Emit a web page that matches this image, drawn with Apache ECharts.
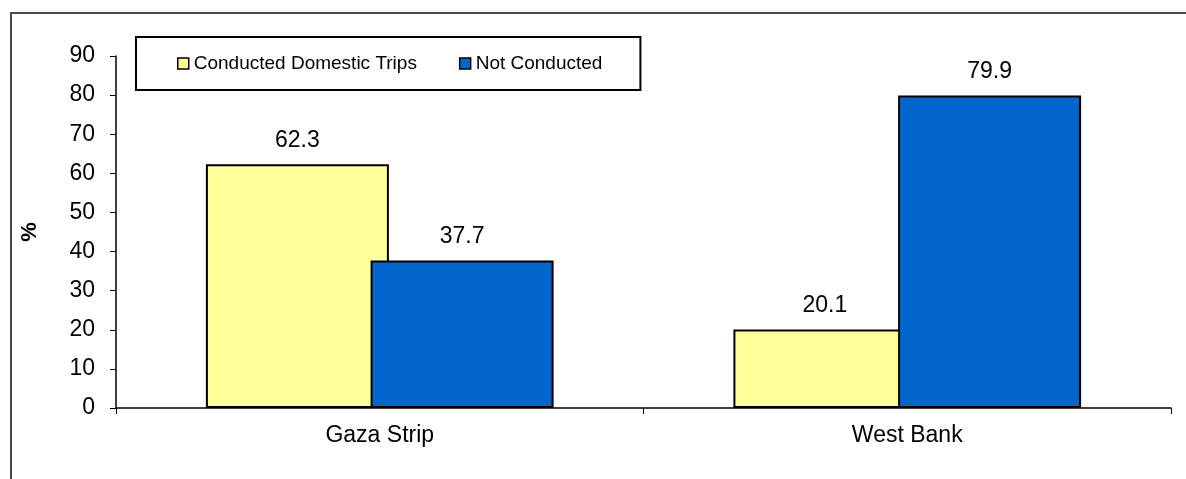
<!DOCTYPE html>
<html>
<head>
<meta charset="utf-8">
<script src="https://cdn.jsdelivr.net/npm/echarts@6/dist/echarts.min.js"></script>
<style>
  html, body { margin: 0; padding: 0; background: #ffffff; }
  #chart { width: 1186px; height: 479px; }
</style>
</head>
<body>
<div id="chart"></div>
<script>
// Share of people who conducted domestic trips, by region (%)
const regions = ['Gaza Strip', 'West Bank'];
const seriesNames = ['Conducted Domestic Trips', 'Not Conducted'];
const conducted = [62.3, 20.1];
const notConducted = [37.7, 79.9];
const yTicks = { min: 0, max: 90, interval: 10 };

const FONT = '"Liberation Sans", Arial, sans-serif';
const chart = echarts.init(document.getElementById('chart'), null, { renderer: 'canvas' });

const labelStyle = {
  show: true,
  position: 'top',
  distance: 12,
  color: '#000',
  fontFamily: FONT,
  fontSize: 23,
  formatter: p => p.value.toFixed(1)
};

chart.setOption({
  animation: false,
  backgroundColor: '#ffffff',
  graphic: [{
    type: 'rect',
    shape: { x: 11, y: 13, width: 1200, height: 500 },
    style: { fill: 'none', stroke: '#4a4a4a', lineWidth: 2 },
    silent: true
  }],
  grid: { left: 116, right: 15, top: 56, bottom: 71 },
  legend: {
    left: 136,
    top: 37,
    orient: 'horizontal',
    padding: [17, 38, 17, 41],
    borderColor: '#000',
    borderWidth: 2,
    itemWidth: 11,
    itemHeight: 11,
    itemGap: 42,
    icon: 'rect',
    itemStyle: { borderColor: '#000', borderWidth: 1.5 },
    textStyle: { fontFamily: FONT, fontSize: 19, color: '#000' },
    data: seriesNames
  },
  xAxis: {
    type: 'category',
    data: regions,
    axisLine: { lineStyle: { color: '#000', width: 1.5 } },
    axisTick: { show: true, length: 6, lineStyle: { color: '#000' } },
    axisLabel: { fontFamily: FONT, fontSize: 23, color: '#000', margin: 16 },
    splitLine: { show: false }
  },
  yAxis: {
    type: 'value',
    min: yTicks.min,
    max: yTicks.max,
    interval: yTicks.interval,
    name: '%',
    nameLocation: 'middle',
    nameRotate: 90,
    nameGap: 75,
    nameTextStyle: { fontFamily: FONT, fontSize: 22, fontWeight: 'bold', color: '#000' },
    axisLine: { show: true, lineStyle: { color: '#000', width: 1.5 } },
    axisTick: { show: true, length: 6, lineStyle: { color: '#000' } },
    axisLabel: { fontFamily: FONT, fontSize: 23, color: '#000', margin: 21 },
    splitLine: { show: false }
  },
  series: [
    {
      name: seriesNames[0],
      type: 'bar',
      data: conducted,
      barWidth: 183,
      barGap: '-10%',
      itemStyle: { color: '#FFFF99', borderColor: '#000', borderWidth: 2 },
      label: labelStyle
    },
    {
      name: seriesNames[1],
      type: 'bar',
      data: notConducted,
      barWidth: 183,
      barGap: '-10%',
      itemStyle: { color: '#0066CC', borderColor: '#000', borderWidth: 2 },
      label: labelStyle
    }
  ]
});
</script>
</body>
</html>
